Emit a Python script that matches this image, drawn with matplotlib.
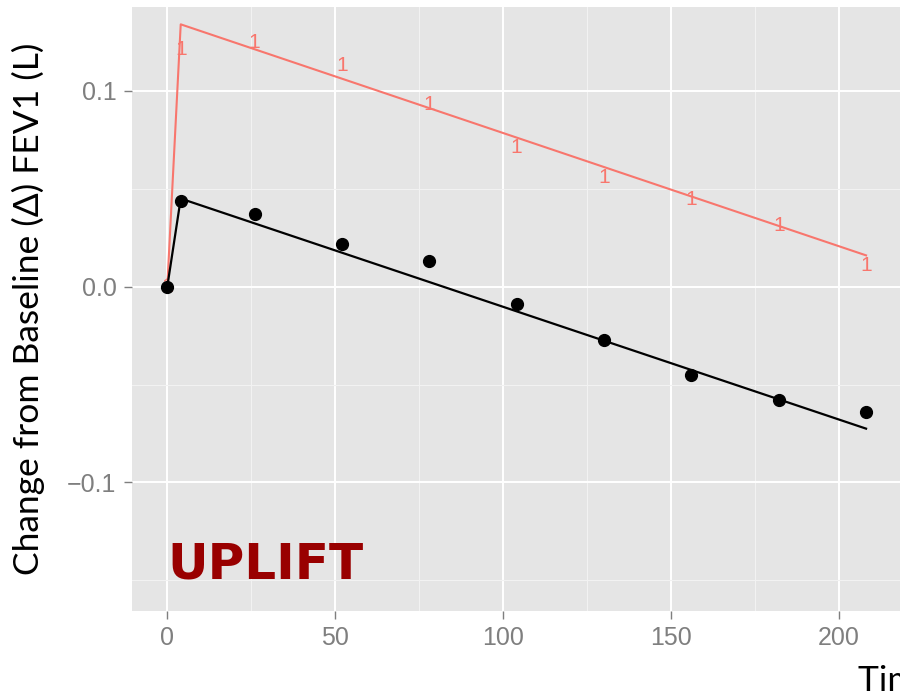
import matplotlib
matplotlib.use("Agg")
import matplotlib.pyplot as plt

# visit times (weeks) and observed mean change in FEV1 (L)
weeks = [0, 4, 26, 52, 78, 104, 130, 156, 182, 208]
observed = [0.0, 0.044, 0.037, 0.022, 0.013, -0.009, -0.027, -0.045, -0.058, -0.064]

# fitted piecewise model (black) and treatment-effect curve (red)
fit_weeks = [0, 4, 208]
fit_black = [0.0, 0.045, -0.0725]
fit_red = [0.0, 0.134, 0.016]

# "1" labels plotted along the red curve
label_red = [0.0, 0.121, 0.1245, 0.113, 0.093, 0.0713, 0.056, 0.0443, 0.0315, 0.011]

red = "#F8766D"
grey_bg = "#E5E5E5"

fig = plt.figure(figsize=(9, 6.99), dpi=100)
ax = fig.add_axes([0.1463, 0.1263, 0.8548, 0.8641])
ax.set_facecolor(grey_bg)
for s in ax.spines.values():
    s.set_visible(False)

ax.set_xlim(-10.6, 218.4)
ax.set_ylim(-0.1655, 0.143)

ax.set_xticks([0, 50, 100, 150, 200])
ax.set_xticks([25, 75, 125, 175], minor=True)
ax.set_yticks([-0.1, 0.0, 0.1])
ax.set_yticks([-0.15, -0.05, 0.05], minor=True)
ax.set_yticklabels(["\u22120.1", "0.0", "0.1"])

ax.grid(which="major", color="white", linewidth=1.4)
ax.grid(which="minor", color="#F2F2F2", linewidth=0.8)
ax.set_axisbelow(True)

ax.tick_params(which="major", length=6, width=1, color="#7F7F7F",
               labelcolor="#7F7F7F", labelsize=18, pad=5)
ax.tick_params(which="minor", length=0)
for lab in ax.get_xticklabels() + ax.get_yticklabels():
    lab.set_family("Liberation Sans")

ax.plot(fit_weeks, fit_red, color=red, linewidth=1.5, zorder=2)
for x, y in zip(weeks, label_red):
    ax.text(x, y, "1", color=red, fontsize=15, ha="center", va="center",
            family="Liberation Sans", zorder=3)

ax.plot(fit_weeks, fit_black, color="black", linewidth=1.6, zorder=4)
ax.plot(weeks, observed, "o", color="black", markersize=8.5, zorder=5)

ax.text(0, -0.149, "UPLIFT", color="#990000", fontsize=36, fontweight="bold",
        family="DejaVu Sans", ha="left", va="baseline")

fig.text(28 / 900, 0.558, "Change from Baseline (\u0394) FEV1 (L)", rotation=90,
         ha="center", va="center", fontsize=25.5, family="Lato")
fig.text(858 / 900, 8 / 699, "Time (weeks)", ha="left", va="baseline",
         fontsize=25.5, family="Lato")

fig.savefig("out.png", dpi=100)
